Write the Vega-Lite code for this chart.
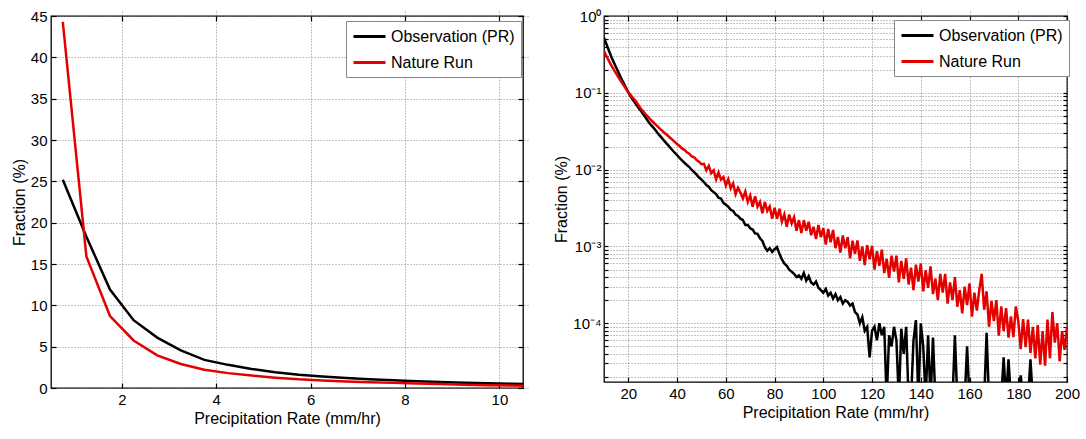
{
  "$schema": "https://vega.github.io/schema/vega-lite/v6.json",
  "background": "white",
  "padding": {"left": 10, "top": 8, "right": 0, "bottom": 0},
  "config": {
    "font": "Liberation Sans",
    "view": {"stroke": "#000000", "strokeWidth": 1.3},
    "axis": {
      "domain": false,
      "labelFont": "Liberation Sans",
      "labelFontSize": 15,
      "labelColor": "#000000",
      "labelFlush": false,
      "titleFont": "Liberation Sans",
      "titleFontSize": 16,
      "titleFontWeight": "normal",
      "titleColor": "#000000",
      "tickColor": "#000000",
      "tickSize": 5,
      "offset": -5,
      "tickWidth": 1.2,
      "gridColor": "#888888",
      "gridDash": [1, 2],
      "gridWidth": 1,
      "labelPadding": 4,
      "titlePadding": 3
    },
    "legend": {
      "labelFont": "Liberation Sans",
      "labelFontSize": 16,
      "labelColor": "#000000"
    }
  },
  "datasets": {
    "lin": [
      {"x": 0.75, "obs": 25.2, "nat": 44.3},
      {"x": 1.25, "obs": 18.3, "nat": 15.9},
      {"x": 1.75, "obs": 11.9, "nat": 8.7},
      {"x": 2.25, "obs": 8.2, "nat": 5.75},
      {"x": 2.75, "obs": 6.1, "nat": 3.95},
      {"x": 3.25, "obs": 4.55, "nat": 2.9},
      {"x": 3.75, "obs": 3.4, "nat": 2.2},
      {"x": 4.25, "obs": 2.8, "nat": 1.8},
      {"x": 4.75, "obs": 2.3, "nat": 1.5},
      {"x": 5.25, "obs": 1.9, "nat": 1.25},
      {"x": 5.75, "obs": 1.6, "nat": 1.05},
      {"x": 6.25, "obs": 1.38, "nat": 0.92},
      {"x": 6.75, "obs": 1.2, "nat": 0.8},
      {"x": 7.25, "obs": 1.05, "nat": 0.7},
      {"x": 7.75, "obs": 0.93, "nat": 0.62},
      {"x": 8.25, "obs": 0.82, "nat": 0.54},
      {"x": 8.75, "obs": 0.73, "nat": 0.47},
      {"x": 9.25, "obs": 0.65, "nat": 0.4},
      {"x": 9.75, "obs": 0.58, "nat": 0.34},
      {"x": 10.25, "obs": 0.52, "nat": 0.29},
      {"x": 10.75, "obs": 0.47, "nat": 0.25}
    ],
    "log": [
      {"x": 10, "obs": 0.52, "nat": 0.35},
      {"x": 11, "obs": 0.43, "nat": 0.30},
      {"x": 12, "obs": 0.355, "nat": 0.26},
      {"x": 13, "obs": 0.295, "nat": 0.228},
      {"x": 14, "obs": 0.25, "nat": 0.20},
      {"x": 15, "obs": 0.213, "nat": 0.178},
      {"x": 16, "obs": 0.182, "nat": 0.158},
      {"x": 17, "obs": 0.156, "nat": 0.141},
      {"x": 18, "obs": 0.135, "nat": 0.126},
      {"x": 19, "obs": 0.117, "nat": 0.113},
      {"x": 20, "obs": 0.101, "nat": 0.102},
      {"x": 21, "obs": 0.089, "nat": 0.093},
      {"x": 22, "obs": 0.080, "nat": 0.085},
      {"x": 23, "obs": 0.072, "nat": 0.078},
      {"x": 24, "obs": 0.065, "nat": 0.070},
      {"x": 25, "obs": 0.059, "nat": 0.063},
      {"x": 26, "obs": 0.053, "nat": 0.058},
      {"x": 27, "obs": 0.048, "nat": 0.053},
      {"x": 28, "obs": 0.043, "nat": 0.049},
      {"x": 29, "obs": 0.039, "nat": 0.045},
      {"x": 30, "obs": 0.036, "nat": 0.042},
      {"x": 31, "obs": 0.033, "nat": 0.039},
      {"x": 32, "obs": 0.030, "nat": 0.0365},
      {"x": 33, "obs": 0.0275, "nat": 0.034},
      {"x": 34, "obs": 0.0252, "nat": 0.0318},
      {"x": 35, "obs": 0.0232, "nat": 0.0297},
      {"x": 36, "obs": 0.0213, "nat": 0.028},
      {"x": 37, "obs": 0.0196, "nat": 0.0262},
      {"x": 38, "obs": 0.0180, "nat": 0.0246},
      {"x": 39, "obs": 0.0166, "nat": 0.023},
      {"x": 40, "obs": 0.0154, "nat": 0.0215},
      {"x": 41, "obs": 0.0142, "nat": 0.0203},
      {"x": 42, "obs": 0.0132, "nat": 0.0189},
      {"x": 43, "obs": 0.0123, "nat": 0.0181},
      {"x": 44, "obs": 0.0115, "nat": 0.0168},
      {"x": 45, "obs": 0.0108, "nat": 0.0161},
      {"x": 46, "obs": 0.0099, "nat": 0.0149},
      {"x": 47, "obs": 0.0093, "nat": 0.0145},
      {"x": 48, "obs": 0.0086, "nat": 0.0133},
      {"x": 49, "obs": 0.0079, "nat": 0.0127},
      {"x": 50, "obs": 0.0074, "nat": 0.01175},
      {"x": 51, "obs": 0.0069, "nat": 0.0119},
      {"x": 52, "obs": 0.0063, "nat": 0.0098},
      {"x": 53, "obs": 0.0060, "nat": 0.0112},
      {"x": 54, "obs": 0.0054, "nat": 0.0090},
      {"x": 55, "obs": 0.0051, "nat": 0.0098},
      {"x": 56, "obs": 0.0048, "nat": 0.0075},
      {"x": 57, "obs": 0.0043, "nat": 0.0092},
      {"x": 58, "obs": 0.0042, "nat": 0.0074},
      {"x": 59, "obs": 0.0037, "nat": 0.0080},
      {"x": 60, "obs": 0.0035, "nat": 0.0062},
      {"x": 61, "obs": 0.0033, "nat": 0.0075},
      {"x": 62, "obs": 0.0030, "nat": 0.0057},
      {"x": 63, "obs": 0.0029, "nat": 0.0066},
      {"x": 64, "obs": 0.0026, "nat": 0.0048},
      {"x": 65, "obs": 0.0025, "nat": 0.0058},
      {"x": 66, "obs": 0.0023, "nat": 0.0050},
      {"x": 67, "obs": 0.0022, "nat": 0.0042},
      {"x": 68, "obs": 0.0019, "nat": 0.0052},
      {"x": 69, "obs": 0.0019, "nat": 0.0038},
      {"x": 70, "obs": 0.00172, "nat": 0.0046},
      {"x": 71, "obs": 0.00166, "nat": 0.0033},
      {"x": 72, "obs": 0.00148, "nat": 0.0045},
      {"x": 73, "obs": 0.00146, "nat": 0.0033},
      {"x": 74, "obs": 0.00128, "nat": 0.0038},
      {"x": 75, "obs": 0.00118, "nat": 0.0027},
      {"x": 76, "obs": 0.00098, "nat": 0.0038},
      {"x": 77, "obs": 0.00088, "nat": 0.0029},
      {"x": 78, "obs": 0.00095, "nat": 0.0033},
      {"x": 79, "obs": 0.00085, "nat": 0.0023},
      {"x": 80, "obs": 0.00092, "nat": 0.0032},
      {"x": 81, "obs": 0.00098, "nat": 0.0023},
      {"x": 82, "obs": 0.0008, "nat": 0.0031},
      {"x": 83, "obs": 0.00068, "nat": 0.0021},
      {"x": 84, "obs": 0.0006, "nat": 0.0026},
      {"x": 85, "obs": 0.00056, "nat": 0.0018},
      {"x": 86, "obs": 0.0005, "nat": 0.0026},
      {"x": 87, "obs": 0.00047, "nat": 0.0020},
      {"x": 88, "obs": 0.00044, "nat": 0.0024},
      {"x": 89, "obs": 0.0004, "nat": 0.0016},
      {"x": 90, "obs": 0.00042, "nat": 0.0022},
      {"x": 91, "obs": 0.00038, "nat": 0.0015},
      {"x": 92, "obs": 0.00045, "nat": 0.0022},
      {"x": 93, "obs": 0.00036, "nat": 0.0016},
      {"x": 94, "obs": 0.00041, "nat": 0.0021},
      {"x": 95, "obs": 0.00034, "nat": 0.0014},
      {"x": 96, "obs": 0.00032, "nat": 0.0018},
      {"x": 97, "obs": 0.00035, "nat": 0.00125},
      {"x": 98, "obs": 0.00029, "nat": 0.0019},
      {"x": 99, "obs": 0.00027, "nat": 0.00132},
      {"x": 100, "obs": 0.00025, "nat": 0.00174},
      {"x": 101, "obs": 0.00028, "nat": 0.00106},
      {"x": 102, "obs": 0.00023, "nat": 0.00169},
      {"x": 103, "obs": 0.00025, "nat": 0.00113},
      {"x": 104, "obs": 0.00021, "nat": 0.00164},
      {"x": 105, "obs": 0.00024, "nat": 0.00095},
      {"x": 106, "obs": 0.0002, "nat": 0.00133},
      {"x": 107, "obs": 0.00022, "nat": 0.00083},
      {"x": 108, "obs": 0.00018, "nat": 0.00139},
      {"x": 109, "obs": 0.0002, "nat": 0.00095},
      {"x": 110, "obs": 0.00019, "nat": 0.00132},
      {"x": 111, "obs": 0.00017, "nat": 0.0007},
      {"x": 112, "obs": 0.00018, "nat": 0.00119},
      {"x": 113, "obs": 0.00014, "nat": 0.0008},
      {"x": 114, "obs": 0.00013, "nat": 0.0012},
      {"x": 115, "obs": 0.0001, "nat": 0.00065},
      {"x": 116, "obs": 0.00012, "nat": 0.001},
      {"x": 117, "obs": 0.00008, "nat": 0.00057},
      {"x": 118, "obs": 0.00009, "nat": 0.00104},
      {"x": 119, "obs": 0.000036, "nat": 0.00068},
      {"x": 120, "obs": 0.00008, "nat": 0.00102},
      {"x": 121, "obs": 0.00009, "nat": 0.0005},
      {"x": 122, "obs": 0.00006, "nat": 0.00087},
      {"x": 123, "obs": 0.0001, "nat": 0.00056},
      {"x": 124, "obs": 0.00007, "nat": 0.00091},
      {"x": 125, "obs": 0.00009, "nat": 0.00045},
      {"x": 126, "obs": 0.00001, "nat": 0.00069},
      {"x": 127, "obs": 0.00007, "nat": 0.00039},
      {"x": 128, "obs": 0.00005, "nat": 0.00076},
      {"x": 129, "obs": 0.00009, "nat": 0.00047},
      {"x": 130, "obs": 0.00006, "nat": 0.00076},
      {"x": 131, "obs": 0.00001, "nat": 0.00034},
      {"x": 132, "obs": 0.000085, "nat": 0.00065},
      {"x": 133, "obs": 0.00004, "nat": 0.00038},
      {"x": 134, "obs": 0.00009, "nat": 0.0007},
      {"x": 135, "obs": 0.00001, "nat": 0.00032},
      {"x": 136, "obs": 0.00001, "nat": 0.00053},
      {"x": 137, "obs": 0.00006, "nat": 0.00027},
      {"x": 138, "obs": 0.00011, "nat": 0.00058},
      {"x": 139, "obs": 0.00001, "nat": 0.00035},
      {"x": 140, "obs": 0.0001, "nat": 0.0006},
      {"x": 141, "obs": 0.00005, "nat": 0.00026},
      {"x": 142, "obs": 0.00001, "nat": 0.00049},
      {"x": 143, "obs": 0.00007, "nat": 0.00029},
      {"x": 144, "obs": 0.00001, "nat": 0.00055},
      {"x": 145, "obs": 0.000065, "nat": 0.00024},
      {"x": 146, "obs": 0.00001, "nat": 0.00038},
      {"x": 147, "obs": 0.00001, "nat": 0.0002},
      {"x": 148, "obs": 0.00001, "nat": 0.00044},
      {"x": 149, "obs": 0.00001, "nat": 0.00025},
      {"x": 150, "obs": 0.00001, "nat": 0.00044},
      {"x": 151, "obs": 0.00001, "nat": 0.00018},
      {"x": 152, "obs": 0.00001, "nat": 0.00034},
      {"x": 153, "obs": 0.00001, "nat": 0.0002},
      {"x": 154, "obs": 0.00007, "nat": 0.0004},
      {"x": 155, "obs": 0.00001, "nat": 0.000164},
      {"x": 156, "obs": 0.00001, "nat": 0.00027},
      {"x": 157, "obs": 0.00001, "nat": 0.000135},
      {"x": 158, "obs": 0.00001, "nat": 0.0003},
      {"x": 159, "obs": 0.00005, "nat": 0.000173},
      {"x": 160, "obs": 0.00001, "nat": 0.00033},
      {"x": 161, "obs": 0.00001, "nat": 0.000122},
      {"x": 162, "obs": 0.00001, "nat": 0.00025},
      {"x": 163, "obs": 0.00001, "nat": 0.000146},
      {"x": 164, "obs": 0.00001, "nat": 0.00027},
      {"x": 165, "obs": 0.00001, "nat": 0.00044},
      {"x": 166, "obs": 0.00001, "nat": 0.00015},
      {"x": 167, "obs": 0.000075, "nat": 0.00026},
      {"x": 168, "obs": 0.00001, "nat": 0.00009},
      {"x": 169, "obs": 0.00001, "nat": 0.000196},
      {"x": 170, "obs": 0.00001, "nat": 0.000107},
      {"x": 171, "obs": 0.00001, "nat": 0.0002},
      {"x": 172, "obs": 0.00001, "nat": 0.000069},
      {"x": 173, "obs": 0.00001, "nat": 0.000166},
      {"x": 174, "obs": 0.000036, "nat": 0.000079},
      {"x": 175, "obs": 0.00001, "nat": 0.000158},
      {"x": 176, "obs": 0.000034, "nat": 0.000065},
      {"x": 177, "obs": 0.00001, "nat": 0.000123},
      {"x": 178, "obs": 0.00001, "nat": 0.000066},
      {"x": 179, "obs": 0.00001, "nat": 0.000166},
      {"x": 180, "obs": 0.00001, "nat": 0.000107},
      {"x": 181, "obs": 0.000021, "nat": 0.000046},
      {"x": 182, "obs": 0.00001, "nat": 0.000113},
      {"x": 183, "obs": 0.00001, "nat": 0.000049},
      {"x": 184, "obs": 0.00001, "nat": 0.000112},
      {"x": 185, "obs": 0.000034, "nat": 0.000041},
      {"x": 186, "obs": 0.00001, "nat": 0.00009},
      {"x": 187, "obs": 0.00001, "nat": 0.000035},
      {"x": 188, "obs": 0.00001, "nat": 0.000095},
      {"x": 189, "obs": 0.00001, "nat": 0.000029},
      {"x": 190, "obs": 0.00001, "nat": 0.000079},
      {"x": 191, "obs": 0.00001, "nat": 0.000028},
      {"x": 192, "obs": 0.00001, "nat": 0.000112},
      {"x": 193, "obs": 0.00001, "nat": 0.000035},
      {"x": 194, "obs": 0.00001, "nat": 0.00014},
      {"x": 195, "obs": 0.00001, "nat": 0.000056},
      {"x": 196, "obs": 0.00001, "nat": 0.0001},
      {"x": 197, "obs": 0.00001, "nat": 0.000032},
      {"x": 198, "obs": 0.00001, "nat": 0.000079},
      {"x": 199, "obs": 0.00001, "nat": 0.000045},
      {"x": 200, "obs": 0.00001, "nat": 0.000089}
    ]
  },
  "bounds": "flush",
  "spacing": 81,
  "resolve": {"legend": {"color": "independent"}},
  "hconcat": [
    {
      "width": 472,
      "height": 372,
      "data": {"name": "lin"},
      "transform": [{"fold": ["obs", "nat"], "as": ["series", "v"]}],
      "layer": [
        {
          "mark": {"type": "line", "strokeWidth": 2.5, "clip": true},
          "encoding": {
            "x": {"field": "x", "type": "quantitative", "scale": {"domain": [0.5, 10.5], "nice": false},
                  "axis": {"values": [2, 4, 6, 8, 10], "title": "Precipitation Rate (mm/hr)", "grid": true}},
            "y": {"field": "v", "type": "quantitative", "scale": {"domain": [0, 45], "nice": false},
                  "axis": {"values": [0, 5, 10, 15, 20, 25, 30, 35, 40, 45], "title": "Fraction (%)", "grid": true}},
            "color": {"field": "series", "type": "nominal",
                      "scale": {"domain": ["obs", "nat"], "range": ["#000000", "#e50000"]},
                      "legend": {"orient": "none", "legendX": 295, "legendY": 5, "title": null,
                                 "labelExpr": "datum.label == 'obs' ? 'Observation (PR)' : 'Nature Run'",
                                 "strokeColor": "#888888", "fillColor": "#ffffff", "padding": 6,
                                 "symbolType": "M-1,0H3", "symbolSize": 256, "symbolStrokeWidth": 3,
                                 "labelOffset": 20, "rowPadding": 8}}
          }
        },
        {
          "mark": {"type": "line", "opacity": 0},
          "encoding": {
            "x": {"field": "x", "type": "quantitative", "scale": {"domain": [0.5, 10.5], "nice": false},
                  "axis": {"orient": "top", "values": [2, 4, 6, 8, 10], "labels": false, "title": null, "grid": false}},
            "y": {"field": "v", "type": "quantitative", "scale": {"domain": [0, 45], "nice": false},
                  "axis": {"orient": "right", "values": [0, 5, 10, 15, 20, 25, 30, 35, 40, 45], "labels": false, "title": null, "grid": false}},
            "detail": {"field": "series"}
          }
        }
      ],
      "resolve": {"axis": {"x": "independent", "y": "independent"}}
    },
    {
      "width": 463,
      "height": 366,
      "data": {"name": "log"},
      "transform": [{"fold": ["obs", "nat"], "as": ["series", "v"]}],
      "layer": [
        {
          "mark": {"type": "line", "strokeWidth": 2.5, "clip": true},
          "encoding": {
            "x": {"field": "x", "type": "quantitative", "scale": {"domain": [10, 200], "nice": false},
                  "axis": {"values": [20, 40, 60, 80, 100, 120, 140, 160, 180, 200], "title": "Precipitation Rate (mm/hr)", "grid": true}},
            "y": {"field": "v", "type": "quantitative", "scale": {"type": "log", "domain": [0.0000172, 1], "nice": false},
                  "axis": {"values": [0.00002, 0.00003, 0.00004, 0.00005, 0.00006, 0.00007, 0.00008, 0.00009, 0.0001, 0.0002, 0.0003, 0.0004, 0.0005, 0.0006, 0.0007, 0.0008, 0.0009, 0.001, 0.002, 0.003, 0.004, 0.005, 0.006, 0.007, 0.008, 0.009, 0.01, 0.02, 0.03, 0.04, 0.05, 0.06, 0.07, 0.08, 0.09, 0.1, 0.2, 0.3, 0.4, 0.5, 0.6, 0.7, 0.8, 0.9, 1],
                           "labelExpr": "abs(log(datum.value)/LN10 - round(log(datum.value)/LN10)) < 0.001 ? ('10' + ['⁰','⁻¹','⁻²','⁻³','⁻⁴','⁻⁵'][round(-log(datum.value)/LN10)]) : ''",
                           "tickSize": 4, "offset": -4, "labelPadding": 3,
                           "title": "Fraction (%)", "grid": true}},
            "color": {"field": "series", "type": "nominal",
                      "scale": {"domain": ["obs", "nat"], "range": ["#000000", "#e50000"]},
                      "legend": {"orient": "none", "legendX": 290, "legendY": 4, "title": null,
                                 "labelExpr": "datum.label == 'obs' ? 'Observation (PR)' : 'Nature Run'",
                                 "strokeColor": "#888888", "fillColor": "#ffffff", "padding": 6,
                                 "symbolType": "M-1,0H3", "symbolSize": 256, "symbolStrokeWidth": 3,
                                 "labelOffset": 20, "rowPadding": 8}}
          }
        },
        {
          "mark": {"type": "line", "opacity": 0},
          "encoding": {
            "x": {"field": "x", "type": "quantitative", "scale": {"domain": [10, 200], "nice": false},
                  "axis": {"orient": "top", "values": [20, 40, 60, 80, 100, 120, 140, 160, 180, 200], "labels": false, "title": null, "grid": false}},
            "y": {"field": "v", "type": "quantitative", "scale": {"type": "log", "domain": [0.0000172, 1], "nice": false},
                  "axis": {"orient": "right", "values": [0.00002, 0.00003, 0.00004, 0.00005, 0.00006, 0.00007, 0.00008, 0.00009, 0.0001, 0.0002, 0.0003, 0.0004, 0.0005, 0.0006, 0.0007, 0.0008, 0.0009, 0.001, 0.002, 0.003, 0.004, 0.005, 0.006, 0.007, 0.008, 0.009, 0.01, 0.02, 0.03, 0.04, 0.05, 0.06, 0.07, 0.08, 0.09, 0.1, 0.2, 0.3, 0.4, 0.5, 0.6, 0.7, 0.8, 0.9, 1],
                           "tickSize": 4, "offset": -4, "labels": false, "title": null, "grid": false}},
            "detail": {"field": "series"}
          }
        }
      ],
      "resolve": {"axis": {"x": "independent", "y": "independent"}}
    }
  ]
}
